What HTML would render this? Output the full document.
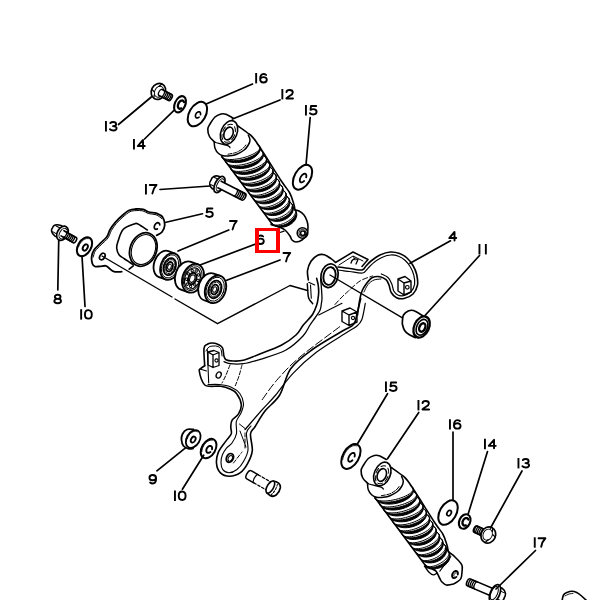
<!DOCTYPE html><html><head><meta charset="utf-8"><style>html,body{margin:0;padding:0;background:#fff;width:600px;height:600px;overflow:hidden}svg{display:block}</style></head><body>
<svg width="600" height="600" viewBox="0 0 600 600">
<defs>
<g id="shock">
<path d="M214.2,141.7 C213.4,140.8 210.6,138.6 209.5,136.5 C208.4,134.4 207.7,131.1 207.8,129.0 C207.9,126.9 208.8,126.0 210.0,124.0 C211.2,122.0 213.2,118.7 215.0,117.0 C216.8,115.3 219.2,114.5 221.0,114.0 C222.8,113.5 224.0,113.6 226.0,114.3 C228.0,115.0 231.8,117.4 233.0,118.0" stroke-width="1.6"/>
<ellipse cx="229" cy="132.5" rx="8" ry="12.3" transform="rotate(22 229 132.5)" stroke-width="1.6"/>
<ellipse cx="228.5" cy="133.5" rx="4.4" ry="6.6" transform="rotate(22 228.5 133.5)" stroke-width="1.6"/>
<ellipse cx="228.7" cy="133.2" rx="6.2" ry="9.4" transform="rotate(22 228.7 133.2)" stroke-dasharray="5 3" stroke-width="1"/>
<path d="M214.2,141.7 C214.5,141.8 214.6,142.1 215.8,142.5 C217.1,142.9 219.6,143.6 221.7,144.2 C223.8,144.8 226.9,145.2 228.3,145.8 C229.7,146.4 229.7,147.2 230.0,147.5" stroke-width="1.3"/>
<path d="M214.2,142.0 C214.3,143.1 214.3,146.4 215.0,148.3 C215.7,150.2 216.9,152.1 218.3,153.3 C219.7,154.6 221.4,155.4 223.3,155.8 C225.2,156.2 227.8,156.1 230.0,155.8 C232.2,155.5 234.3,155.2 236.7,154.2 C239.1,153.2 242.3,151.5 244.2,150.0 C246.1,148.5 247.3,146.7 248.3,145.0 C249.3,143.3 250.0,141.7 250.0,140.0 C250.0,138.3 248.6,135.8 248.3,135.0" stroke-width="1.5"/>
<path d="M228.0,154.2 C229.3,153.9 233.6,153.4 236.0,152.5 C238.4,151.6 240.8,150.1 242.5,148.8 C244.2,147.5 245.6,145.2 246.2,144.5" stroke-width="1.0" stroke-dasharray="4 1.5"/>
<path d="M221.7,156.2 L272.5,224.5" stroke-width="1.6"/>
<path d="M238.0,126.0 C239.5,127.1 244.0,129.9 247.0,132.5 C250.0,135.1 250.3,133.5 256.0,141.5 C261.7,149.5 275.4,172.0 281.0,180.5 C286.6,189.0 287.4,188.8 289.5,192.5 C291.6,196.2 292.6,200.1 293.5,203.0 C294.4,205.9 294.8,208.8 295.0,210.0" stroke-width="1.6"/>
<path d="M221.70,156.70 L222.50,158.06 L223.69,159.29 L225.26,160.36 L227.15,161.24 L229.34,161.92 L231.77,162.37 L234.40,162.60 L237.16,162.60 L240.00,162.36 L242.86,161.89 L245.67,161.21 L248.38,160.32 L250.92,159.24 L253.24,158.01 L255.29,156.64 L257.03,155.16 L258.42,153.61 L259.43,152.02 L260.04,150.43 L260.23,148.86 L260.00,147.36 L259.36,145.95 L258.31,144.66 L256.89,143.53 L257.22,144.37 L258.52,145.19 L259.44,146.15 L259.95,147.23 L260.05,148.41 L259.73,149.66 L259.01,150.95 L257.89,152.26 L256.40,153.56 L254.57,154.82 L252.45,156.02 L250.08,157.12 L247.50,158.11 L244.78,158.96 L241.97,159.66 L239.14,160.18 L236.34,160.52 L233.63,160.68 L231.08,160.64 L228.74,160.41 L226.65,159.99 L224.87,159.40 L223.44,158.64 L222.37,157.74 L221.70,156.70 Z" fill="#000" stroke-width="1.0"/>
<path d="M221.70,156.70 L222.23,157.48 L223.11,158.15 L224.33,158.69 L225.87,159.10 L227.70,159.37 L229.78,159.50 L232.07,159.47 L234.52,159.29 L237.10,158.97 L239.75,158.51 L242.41,157.92 L245.05,157.22 L247.60,156.40 L250.02,155.50 L252.26,154.52 L254.28,153.49 L256.03,152.43 L257.50,151.35 L258.64,150.29 L259.44,149.25 L259.87,148.25 L259.94,147.33 L259.64,146.49 L258.98,145.75" stroke-width="1.0"/>
<path d="M226.27,162.77 L227.09,164.12 L228.29,165.34 L229.84,166.38 L231.71,167.24 L233.85,167.89 L236.23,168.32 L238.79,168.52 L241.48,168.48 L244.23,168.22 L246.99,167.72 L249.71,167.01 L252.31,166.09 L254.75,164.99 L256.97,163.74 L258.92,162.35 L260.57,160.86 L261.87,159.30 L262.80,157.71 L263.34,156.11 L263.48,154.55 L263.21,153.05 L262.54,151.66 L261.49,150.39 L260.07,149.27 L260.42,150.11 L261.71,150.91 L262.63,151.86 L263.16,152.93 L263.29,154.10 L263.02,155.35 L262.35,156.64 L261.31,157.96 L259.90,159.28 L258.16,160.55 L256.14,161.77 L253.86,162.89 L251.39,163.90 L248.77,164.78 L246.06,165.50 L243.32,166.05 L240.61,166.43 L237.99,166.61 L235.51,166.60 L233.23,166.40 L231.19,166.00 L229.44,165.43 L228.02,164.69 L226.96,163.80 L226.27,162.77 Z" fill="#000" stroke-width="1.0"/>
<path d="M226.27,162.77 L226.81,163.54 L227.69,164.20 L228.89,164.73 L230.40,165.12 L232.18,165.37 L234.21,165.47 L236.43,165.42 L238.81,165.22 L241.31,164.87 L243.86,164.39 L246.44,163.77 L248.98,163.04 L251.43,162.20 L253.75,161.27 L255.90,160.28 L257.83,159.23 L259.51,158.15 L260.90,157.06 L261.98,155.99 L262.72,154.94 L263.12,153.95 L263.15,153.03 L262.84,152.19 L262.17,151.46" stroke-width="1.0"/>
<path d="M230.85,168.85 L231.68,170.18 L232.89,171.38 L234.43,172.40 L236.27,173.23 L238.38,173.86 L240.70,174.26 L243.19,174.43 L245.80,174.36 L248.47,174.07 L251.14,173.54 L253.75,172.80 L256.25,171.86 L258.58,170.74 L260.70,169.46 L262.55,168.06 L264.10,166.56 L265.32,164.99 L266.17,163.39 L266.65,161.79 L266.73,160.24 L266.42,158.75 L265.73,157.36 L264.66,156.11 L263.25,155.02 L263.62,155.85 L264.89,156.63 L265.82,157.56 L266.37,158.62 L266.53,159.79 L266.31,161.04 L265.71,162.34 L264.73,163.66 L263.41,164.98 L261.76,166.27 L259.83,167.51 L257.66,168.65 L255.29,169.69 L252.77,170.59 L250.16,171.34 L247.52,171.92 L244.90,172.32 L242.36,172.53 L239.95,172.55 L237.72,172.38 L235.73,172.01 L234.01,171.46 L232.60,170.74 L231.54,169.86 L230.85,168.85 Z" fill="#000" stroke-width="1.0"/>
<path d="M230.85,168.85 L231.39,169.61 L232.27,170.25 L233.45,170.77 L234.93,171.14 L236.67,171.37 L238.64,171.45 L240.80,171.37 L243.11,171.14 L245.52,170.77 L247.99,170.26 L250.47,169.61 L252.91,168.85 L255.27,167.99 L257.50,167.04 L259.55,166.03 L261.40,164.96 L262.99,163.87 L264.31,162.77 L265.32,161.68 L266.01,160.64 L266.36,159.64 L266.37,158.72 L266.03,157.90 L265.36,157.18" stroke-width="1.0"/>
<path d="M235.42,174.92 L236.28,176.24 L237.49,177.41 L239.02,178.41 L240.84,179.22 L242.91,179.82 L245.18,180.19 L247.61,180.33 L250.14,180.23 L252.72,179.91 L255.29,179.35 L257.80,178.58 L260.20,177.61 L262.43,176.47 L264.44,175.18 L266.19,173.76 L267.65,172.24 L268.78,170.67 L269.55,169.07 L269.96,167.47 L269.99,165.92 L269.64,164.44 L268.91,163.07 L267.84,161.84 L266.43,160.77 L266.81,161.59 L268.08,162.35 L269.01,163.27 L269.58,164.32 L269.78,165.48 L269.61,166.72 L269.06,168.02 L268.16,169.35 L266.92,170.69 L265.37,171.99 L263.53,173.24 L261.46,174.41 L259.19,175.46 L256.78,176.39 L254.27,177.17 L251.72,177.78 L249.19,178.21 L246.73,178.45 L244.39,178.50 L242.22,178.35 L240.27,178.01 L238.58,177.48 L237.19,176.78 L236.13,175.92 L235.42,174.92 Z" fill="#000" stroke-width="1.0"/>
<path d="M235.42,174.92 L235.97,175.67 L236.85,176.30 L238.02,176.80 L239.47,177.15 L241.16,177.36 L243.08,177.41 L245.17,177.31 L247.41,177.06 L249.74,176.66 L252.12,176.12 L254.51,175.45 L256.85,174.66 L259.12,173.78 L261.25,172.81 L263.21,171.77 L264.96,170.69 L266.48,169.58 L267.72,168.47 L268.66,167.38 L269.30,166.33 L269.60,165.33 L269.58,164.42 L269.23,163.60 L268.55,162.89" stroke-width="1.0"/>
<path d="M239.99,180.99 L240.88,182.29 L242.09,183.45 L243.62,184.42 L245.41,185.20 L247.44,185.77 L249.66,186.11 L252.03,186.22 L254.48,186.09 L256.98,185.73 L259.46,185.15 L261.87,184.35 L264.16,183.36 L266.29,182.20 L268.19,180.88 L269.84,179.45 L271.20,177.92 L272.24,176.34 L272.94,174.74 L273.27,173.15 L273.24,171.60 L272.85,170.14 L272.10,168.78 L271.01,167.57 L269.60,166.52 L270.00,167.33 L271.26,168.08 L272.19,168.98 L272.79,170.01 L273.03,171.16 L272.90,172.40 L272.42,173.71 L271.60,175.04 L270.44,176.38 L268.98,177.70 L267.24,178.97 L265.27,180.15 L263.11,181.23 L260.80,182.19 L258.39,182.99 L255.94,183.63 L253.49,184.09 L251.11,184.37 L248.83,184.44 L246.72,184.32 L244.82,184.00 L243.16,183.50 L241.78,182.82 L240.72,181.98 L239.99,180.99 Z" fill="#000" stroke-width="1.0"/>
<path d="M239.99,180.99 L240.56,181.73 L241.43,182.35 L242.58,182.83 L244.00,183.16 L245.66,183.35 L247.52,183.38 L249.56,183.25 L251.72,182.97 L253.96,182.54 L256.26,181.98 L258.55,181.28 L260.80,180.47 L262.97,179.56 L265.00,178.56 L266.87,177.51 L268.54,176.41 L269.97,175.29 L271.13,174.17 L272.01,173.07 L272.59,172.02 L272.85,171.02 L272.79,170.11 L272.42,169.30 L271.74,168.61" stroke-width="1.0"/>
<path d="M244.56,187.06 L245.47,188.35 L246.70,189.48 L248.22,190.43 L249.99,191.18 L251.99,191.72 L254.16,192.03 L256.46,192.10 L258.84,191.94 L261.25,191.55 L263.64,190.94 L265.95,190.11 L268.14,189.09 L270.15,187.91 L271.96,186.57 L273.50,185.13 L274.77,183.59 L275.71,182.01 L276.33,180.40 L276.59,178.82 L276.50,177.28 L276.06,175.83 L275.28,174.50 L274.17,173.30 L272.76,172.28 L273.19,173.08 L274.44,173.81 L275.38,174.69 L276.00,175.71 L276.27,176.85 L276.20,178.08 L275.79,179.38 L275.04,180.72 L273.97,182.07 L272.60,183.40 L270.96,184.68 L269.09,185.89 L267.03,186.99 L264.82,187.97 L262.52,188.81 L260.16,189.48 L257.80,189.97 L255.49,190.27 L253.29,190.37 L251.23,190.28 L249.37,189.99 L247.74,189.51 L246.37,188.86 L245.31,188.03 L244.56,187.06 Z" fill="#000" stroke-width="1.0"/>
<path d="M244.56,187.06 L245.14,187.79 L246.01,188.39 L247.15,188.86 L248.55,189.17 L250.16,189.33 L251.97,189.34 L253.94,189.18 L256.03,188.87 L258.20,188.42 L260.40,187.82 L262.61,187.10 L264.76,186.26 L266.83,185.33 L268.77,184.31 L270.54,183.24 L272.12,182.12 L273.46,180.99 L274.55,179.86 L275.36,178.76 L275.88,177.70 L276.10,176.71 L276.01,175.81 L275.61,175.01 L274.92,174.33" stroke-width="1.0"/>
<path d="M249.14,193.14 L250.07,194.40 L251.31,195.50 L252.83,196.43 L254.58,197.15 L256.54,197.65 L258.66,197.93 L260.90,197.97 L263.21,197.78 L265.53,197.35 L267.83,196.71 L270.04,195.86 L272.12,194.81 L274.04,193.61 L275.73,192.26 L277.18,190.79 L278.34,189.25 L279.19,187.66 L279.72,186.06 L279.91,184.48 L279.76,182.96 L279.28,181.52 L278.46,180.21 L277.34,179.04 L275.93,178.04 L276.37,178.83 L277.61,179.54 L278.57,180.40 L279.21,181.40 L279.53,182.53 L279.51,183.76 L279.16,185.06 L278.48,186.40 L277.50,187.75 L276.22,189.09 L274.69,190.39 L272.92,191.61 L270.97,192.74 L268.86,193.75 L266.65,194.61 L264.39,195.31 L262.12,195.83 L259.89,196.16 L257.75,196.30 L255.75,196.24 L253.93,195.98 L252.32,195.53 L250.97,194.89 L249.90,194.09 L249.14,193.14 Z" fill="#000" stroke-width="1.0"/>
<path d="M249.14,193.14 L249.73,193.85 L250.60,194.44 L251.73,194.88 L253.09,195.17 L254.67,195.31 L256.43,195.29 L258.34,195.11 L260.35,194.77 L262.44,194.29 L264.56,193.66 L266.67,192.91 L268.73,192.05 L270.70,191.09 L272.54,190.06 L274.22,188.96 L275.70,187.83 L276.96,186.69 L277.97,185.55 L278.72,184.44 L279.18,183.38 L279.35,182.40 L279.22,181.50 L278.81,180.71 L278.11,180.04" stroke-width="1.0"/>
<path d="M253.71,199.21 L254.68,200.45 L255.93,201.52 L257.44,202.42 L259.18,203.10 L261.10,203.57 L263.18,203.82 L265.36,203.82 L267.59,203.60 L269.83,203.14 L272.03,202.46 L274.15,201.58 L276.13,200.52 L277.93,199.29 L279.52,197.92 L280.86,196.45 L281.92,194.90 L282.68,193.31 L283.12,191.71 L283.24,190.14 L283.03,188.63 L282.49,187.22 L281.64,185.92 L280.50,184.78 L279.08,183.81 L279.55,184.59 L280.79,185.27 L281.75,186.11 L282.42,187.10 L282.78,188.21 L282.82,189.43 L282.53,190.72 L281.94,192.06 L281.04,193.42 L279.86,194.77 L278.42,196.09 L276.76,197.33 L274.91,198.48 L272.91,199.51 L270.80,200.40 L268.63,201.13 L266.45,201.68 L264.30,202.04 L262.22,202.21 L260.27,202.18 L258.49,201.95 L256.91,201.53 L255.57,200.92 L254.49,200.14 L253.71,199.21 Z" fill="#000" stroke-width="1.0"/>
<path d="M253.71,199.21 L254.32,199.91 L255.19,200.48 L256.30,200.90 L257.64,201.17 L259.18,201.28 L260.89,201.23 L262.74,201.02 L264.68,200.66 L266.69,200.14 L268.72,199.49 L270.74,198.72 L272.70,197.83 L274.57,196.85 L276.32,195.79 L277.90,194.68 L279.29,193.53 L280.47,192.38 L281.40,191.23 L282.07,190.12 L282.48,189.06 L282.60,188.08 L282.44,187.19 L282.00,186.42 L281.29,185.77" stroke-width="1.0"/>
<path d="M258.28,205.28 L259.28,206.49 L260.55,207.54 L262.06,208.40 L263.78,209.05 L265.68,209.49 L267.71,209.69 L269.82,209.66 L271.98,209.40 L274.14,208.91 L276.25,208.20 L278.26,207.29 L280.14,206.20 L281.83,204.95 L283.32,203.57 L284.55,202.09 L285.51,200.54 L286.18,198.95 L286.53,197.36 L286.57,195.80 L286.30,194.30 L285.71,192.91 L284.82,191.64 L283.65,190.53 L282.23,189.59 L282.72,190.35 L283.96,191.00 L284.94,191.82 L285.63,192.79 L286.03,193.89 L286.13,195.10 L285.91,196.38 L285.39,197.72 L284.58,199.09 L283.50,200.44 L282.17,201.77 L280.61,203.03 L278.86,204.20 L276.96,205.26 L274.96,206.17 L272.88,206.93 L270.78,207.52 L268.71,207.91 L266.70,208.12 L264.80,208.12 L263.06,207.92 L261.50,207.53 L260.17,206.95 L259.09,206.19 L258.28,205.28 Z" fill="#000" stroke-width="1.0"/>
<path d="M258.28,205.28 L258.91,205.97 L259.78,206.51 L260.88,206.91 L262.20,207.16 L263.70,207.24 L265.36,207.16 L267.14,206.93 L269.02,206.53 L270.94,205.99 L272.89,205.31 L274.82,204.51 L276.68,203.59 L278.46,202.59 L280.11,201.51 L281.59,200.38 L282.89,199.22 L283.98,198.06 L284.83,196.91 L285.44,195.79 L285.78,194.74 L285.85,193.76 L285.66,192.89 L285.19,192.12 L284.47,191.49" stroke-width="1.0"/>
<path d="M262.85,211.35 L263.89,212.54 L265.17,213.55 L266.68,214.37 L268.39,214.99 L270.26,215.38 L272.24,215.55 L274.30,215.48 L276.39,215.18 L278.47,214.66 L280.48,213.92 L282.40,212.98 L284.17,211.87 L285.75,210.60 L287.13,209.20 L288.25,207.71 L289.11,206.16 L289.68,204.57 L289.95,202.99 L289.91,201.44 L289.57,199.97 L288.92,198.60 L288.00,197.36 L286.81,196.27 L285.38,195.38 L285.89,196.12 L287.13,196.74 L288.12,197.54 L288.85,198.48 L289.29,199.56 L289.44,200.76 L289.30,202.03 L288.86,203.37 L288.14,204.74 L287.15,206.10 L285.92,207.44 L284.47,208.71 L282.83,209.91 L281.03,210.99 L279.12,211.93 L277.14,212.72 L275.13,213.34 L273.13,213.77 L271.19,214.01 L269.34,214.04 L267.64,213.88 L266.10,213.52 L264.78,212.97 L263.69,212.24 L262.85,211.35 Z" fill="#000" stroke-width="1.0"/>
<path d="M262.85,211.35 L263.49,212.02 L264.37,212.55 L265.47,212.92 L266.76,213.14 L268.22,213.20 L269.83,213.09 L271.56,212.82 L273.36,212.40 L275.21,211.83 L277.07,211.12 L278.90,210.28 L280.67,209.35 L282.35,208.32 L283.90,207.22 L285.29,206.08 L286.50,204.90 L287.50,203.73 L288.27,202.58 L288.80,201.46 L289.08,200.41 L289.11,199.44 L288.87,198.58 L288.38,197.83 L287.65,197.21" stroke-width="1.0"/>
<path d="M267.43,217.43 L268.49,218.58 L269.80,219.55 L271.32,220.34 L273.01,220.91 L274.85,221.26 L276.79,221.39 L278.79,221.28 L280.81,220.94 L282.80,220.38 L284.73,219.61 L286.54,218.64 L288.21,217.51 L289.69,216.22 L290.95,214.81 L291.97,213.31 L292.72,211.76 L293.19,210.18 L293.37,208.61 L293.25,207.08 L292.84,205.63 L292.14,204.28 L291.18,203.08 L289.96,202.03 L288.52,201.17 L289.06,201.90 L290.30,202.49 L291.30,203.25 L292.06,204.17 L292.55,205.23 L292.76,206.41 L292.69,207.68 L292.33,209.01 L291.70,210.37 L290.81,211.74 L289.68,213.09 L288.33,214.38 L286.80,215.59 L285.11,216.70 L283.30,217.67 L281.41,218.49 L279.49,219.14 L277.56,219.61 L275.68,219.88 L273.89,219.96 L272.22,219.83 L270.70,219.51 L269.38,218.99 L268.28,218.29 L267.43,217.43 Z" fill="#000" stroke-width="1.0"/>
<path d="M267.43,217.43 L268.09,218.07 L268.97,218.58 L270.05,218.93 L271.32,219.12 L272.75,219.14 L274.31,219.00 L275.98,218.70 L277.71,218.25 L279.48,217.65 L281.25,216.91 L283.00,216.05 L284.67,215.08 L286.25,214.03 L287.70,212.92 L289.00,211.76 L290.11,210.57 L291.02,209.39 L291.72,208.23 L292.18,207.12 L292.39,206.08 L292.36,205.12 L292.09,204.27 L291.58,203.54 L290.83,202.94" stroke-width="1.0"/>
<path d="M272.00,223.50 L273.10,224.61 L274.43,225.55 L275.95,226.29 L277.64,226.82 L279.45,227.13 L281.35,227.21 L283.29,227.05 L285.24,226.68 L287.15,226.08 L288.99,225.27 L290.70,224.28 L292.26,223.12 L293.63,221.82 L294.78,220.40 L295.69,218.90 L296.34,217.34 L296.71,215.77 L296.80,214.22 L296.60,212.71 L296.11,211.28 L295.36,209.97 L294.35,208.80 L293.11,207.79 L291.66,206.97 L292.22,207.68 L293.46,208.24 L294.49,208.97 L295.28,209.86 L295.81,210.90 L296.08,212.06 L296.08,213.31 L295.81,214.63 L295.27,216.00 L294.48,217.37 L293.45,218.72 L292.21,220.03 L290.78,221.26 L289.20,222.39 L287.49,223.39 L285.69,224.24 L283.85,224.93 L282.00,225.43 L280.19,225.74 L278.44,225.86 L276.80,225.77 L275.31,225.48 L273.99,225.00 L272.88,224.33 L272.00,223.50 Z" fill="#000" stroke-width="1.0"/>
<path d="M272.00,223.50 L272.68,224.12 L273.56,224.60 L274.64,224.92 L275.89,225.08 L277.29,225.08 L278.80,224.91 L280.41,224.57 L282.07,224.09 L283.76,223.45 L285.45,222.68 L287.10,221.79 L288.68,220.80 L290.16,219.73 L291.51,218.60 L292.71,217.42 L293.73,216.23 L294.55,215.04 L295.17,213.88 L295.55,212.77 L295.71,211.74 L295.62,210.79 L295.31,209.95 L294.77,209.24 L294.01,208.67" stroke-width="1.0"/>
</g>
</defs>
<g fill="none" stroke="#000" stroke-width="1.4" stroke-linecap="round" stroke-linejoin="round">
<use href="#shock"/>
<use href="#shock" transform="translate(153.3,341.5)"/>
<path d="M271.0,224.0 C271.2,224.2 270.7,224.5 272.0,225.0 C273.3,225.5 276.8,226.2 279.0,227.0 C281.2,227.8 283.2,228.5 285.0,230.0 C286.8,231.5 288.8,234.3 290.0,236.0 C291.2,237.7 291.0,239.0 292.0,240.0 C293.0,241.0 294.3,242.0 296.0,242.0 C297.7,242.0 300.2,241.3 302.0,240.0 C303.8,238.7 306.0,236.2 307.0,234.0 C308.0,231.8 308.0,229.2 308.0,227.0 C308.0,224.8 307.7,223.0 307.0,221.0 C306.3,219.0 305.3,216.7 304.0,215.0 C302.7,213.3 300.5,211.8 299.0,211.0 C297.5,210.2 295.7,210.2 295.0,210.0" stroke-width="1.6"/>
<path d="M286,226 L296,216" stroke-width="1.2"/>
<path d="M280,232.5 L284,231.2" stroke-width="1.3"/>
<circle cx="302.5" cy="233" r="5.3" stroke-width="1.6"/>
<circle cx="302.5" cy="233" r="3.6" stroke-width="0.9"/>
<circle cx="302.8" cy="233.3" r="2.2" stroke-width="1.5"/>
<path d="M425.8,566.0 C426.0,566.2 426.0,567.0 427.0,567.5 C428.0,568.0 430.5,568.4 432.0,569.0 C433.5,569.6 434.8,569.6 436.1,571.2 C437.4,572.8 438.8,576.7 439.8,578.5 C440.8,580.3 440.9,580.9 442.0,582.0 C443.1,583.1 444.3,584.7 446.2,585.0 C448.1,585.3 451.7,584.5 453.5,584.0 C455.3,583.5 455.8,582.9 457.0,582.0 C458.2,581.1 460.1,580.2 460.9,578.5 C461.7,576.8 461.9,574.3 462.0,572.0 C462.1,569.7 463.0,567.3 461.8,564.8 C460.6,562.3 457.0,559.0 455.0,557.0 C453.0,555.0 451.0,553.7 449.9,552.8 C448.8,551.9 448.6,551.7 448.3,551.5" stroke-width="1.6"/>
<path d="M424.5,566.0 C425.2,567.0 427.3,570.6 428.8,572.1 C430.3,573.6 431.9,574.8 433.3,574.9 C434.7,575.0 436.4,573.3 437.0,573.0" stroke-width="1.4"/>
<path d="M450.8,556.5 L439.8,571.2 M447.1,549.5 L440,560" stroke-width="1.1"/>
<path d="M457.78,574.57 L457.96,572.94 L457.51,571.64 L456.53,570.95 L455.22,571.01 L453.86,571.82 L452.75,573.20 L452.11,574.85 L452.09,576.43 L452.69,577.60 L453.78,578.11 L455.13,577.85 L456.45,576.88" stroke-width="1.8"/>
<path d="M456.40,572.89 L456.09,572.80 L455.73,572.85 L455.34,573.03 L454.95,573.33 L454.58,573.73 L454.26,574.20 L454.01,574.71 L453.85,575.23 L453.79,575.72 L453.83,576.15 L453.97,576.49 L454.20,576.71" stroke-width="1.0"/>
<g transform="translate(158.4,91.4) rotate(27)">
<ellipse cx="0" cy="0" rx="7.0" ry="8.3" fill="#fff" stroke-width="1.7"/>
<path d="M-0.4,-8.1 L-1.8,-4.6 M-6.8,1.2 L-3.9,2.1 M-1.1,8.1 L-2.1,5.0" stroke-width="1.2"/>
<ellipse cx="0.7" cy="0" rx="4.3" ry="5.8" stroke-width="0.9"/>
<path d="M2.4,-3.4 L13.2,-3.4 A1.70,3.4 0 0 1 13.2,3.4 L2.4,3.4" fill="#fff" stroke-width="1.6"/>
<path d="M2.4,-3.4 A1.70,3.4 0 0 0 2.4,3.4" stroke-width="1.2"/>
<path d="M4.5,-3.4 A1.70,3.4 0 0 1 4.5,3.4" stroke-width="1.3"/>
<path d="M6.3,-3.4 A1.70,3.4 0 0 1 6.3,3.4" stroke-width="1.3"/>
<path d="M8.1,-3.4 A1.70,3.4 0 0 1 8.1,3.4" stroke-width="1.3"/>
<path d="M9.9,-3.4 A1.70,3.4 0 0 1 9.9,3.4" stroke-width="1.3"/>
<path d="M11.7,-3.4 A1.70,3.4 0 0 1 11.7,3.4" stroke-width="1.3"/>
</g>
<ellipse cx="180" cy="104.3" rx="5.2" ry="8.6" transform="rotate(25 180 104.3)" stroke-width="2.1"/>
<path d="M183.98,102.01 L183.41,101.01 L182.51,100.49 L181.41,100.53 L180.25,101.13 L179.19,102.20 L178.38,103.59 L177.93,105.12 L177.89,106.58 L178.28,107.77 L179.03,108.53 L180.05,108.76 L181.21,108.42" stroke-width="2.3"/>
<ellipse cx="197.4" cy="114.1" rx="8.2" ry="13.3" transform="rotate(30 197.4 114.1)" stroke-width="2.0"/>
<path d="M200.52,114.70 L200.58,113.34 L200.11,112.30 L199.23,111.78 L198.10,111.88 L196.95,112.58 L196.01,113.75 L195.47,115.15 L195.43,116.50 L195.91,117.53 L196.81,118.03 L197.94,117.91 L199.09,117.19" stroke-width="1.6"/>
<ellipse cx="302.5" cy="177.25" rx="8" ry="13.5" transform="rotate(30 302.5 177.25)" stroke-width="2.0"/>
<path d="M306.18,177.43 L306.42,175.58 L306.00,174.22 L305.00,173.63 L303.63,173.92 L302.14,175.03 L300.85,176.75 L300.01,178.73 L299.78,180.57 L300.22,181.91 L301.24,182.48 L302.62,182.16 L304.11,181.02" stroke-width="1.8"/>
<g transform="translate(219.5,184.5) rotate(27)">
<path d="M-1,-6.9 L-4.4,-7.0 C-8.8,-6.2 -10.0,-2.6 -9.6,0 C-10.0,2.6 -8.8,6.2 -4.4,7.0 L-1,6.9" fill="#fff" stroke-width="1.6"/>
<path d="M-8.0,-4.0 L-3.2,-4.0 M-8.0,4.0 L-3.2,4.0" stroke-width="1.0"/>
<ellipse cx="0" cy="0" rx="4.4" ry="8.8" fill="#fff" stroke-width="1.7"/>
<ellipse cx="0.8" cy="0" rx="3.0" ry="6.6" stroke-width="1.0"/>
<path d="M0.0,-3.7 L27,-3.7 A1.85,3.7 0 0 1 27,3.7 L0.0,3.7" fill="#fff" stroke-width="1.6"/>
<path d="M17.5,-3.7 A1.85,3.7 0 0 1 17.5,3.7" stroke-width="1.3"/>
<path d="M19.4,-3.7 A1.85,3.7 0 0 1 19.4,3.7" stroke-width="1.3"/>
<path d="M21.3,-3.7 A1.85,3.7 0 0 1 21.3,3.7" stroke-width="1.3"/>
<path d="M23.2,-3.7 A1.85,3.7 0 0 1 23.2,3.7" stroke-width="1.3"/>
<path d="M25.1,-3.7 A1.85,3.7 0 0 1 25.1,3.7" stroke-width="1.3"/>
</g>
<g transform="translate(62.5,233.3) rotate(29)">
<path d="M-1,-5.9 L-5.2,-6.1 C-10.5,-5.3 -11.9,-2.3 -11.4,0 C-11.9,2.3 -10.5,5.3 -5.2,6.1 L-1,5.9" fill="#fff" stroke-width="1.6"/>
<path d="M-9.5,-3.4 L-3.8,-3.4 M-9.5,3.4 L-3.8,3.4" stroke-width="1.0"/>
<ellipse cx="0" cy="0" rx="5.2" ry="7.6" fill="#fff" stroke-width="1.7"/>
<ellipse cx="0.8" cy="0" rx="3.6" ry="5.7" stroke-width="1.0"/>
<path d="M0.0,-3.0 L14,-3.0 A1.50,3.0 0 0 1 14,3.0 L0.0,3.0" fill="#fff" stroke-width="1.6"/>
<path d="M2.5,-3.0 A1.50,3.0 0 0 1 2.5,3.0" stroke-width="1.3"/>
<path d="M4.3,-3.0 A1.50,3.0 0 0 1 4.3,3.0" stroke-width="1.3"/>
<path d="M6.1,-3.0 A1.50,3.0 0 0 1 6.1,3.0" stroke-width="1.3"/>
<path d="M7.9,-3.0 A1.50,3.0 0 0 1 7.9,3.0" stroke-width="1.3"/>
<path d="M9.7,-3.0 A1.50,3.0 0 0 1 9.7,3.0" stroke-width="1.3"/>
<path d="M11.5,-3.0 A1.50,3.0 0 0 1 11.5,3.0" stroke-width="1.3"/>
</g>
<ellipse cx="84.5" cy="246.8" rx="6.5" ry="10.3" transform="rotate(30 84.5 246.8)" stroke-width="2.0"/>
<ellipse cx="85.3" cy="247.4" rx="2.2" ry="3.4" transform="rotate(30 85.3 247.4)" stroke-width="1.9"/>
<path d="M88.12,238.66 L87.30,238.55 L86.42,238.62 L85.50,238.87 L84.56,239.28 L83.62,239.85 L82.70,240.56 L81.82,241.41 L80.99,242.38 L80.23,243.43 L79.57,244.56 L79.01,245.73 L78.57,246.93" stroke-width="0.9"/>
<path d="M121.7,271.7 C120.5,271.7 116.3,272.3 114.2,271.7 C112.1,271.1 110.6,269.3 109.2,268.3 C107.8,267.3 107.3,266.1 105.8,265.8 C104.3,265.5 101.8,266.2 100.0,266.3 C98.2,266.4 96.3,267.0 95.0,266.5 C93.7,266.0 92.8,265.1 92.3,263.5 C91.8,261.9 91.4,258.9 91.7,256.7 C92.0,254.4 92.6,252.2 94.0,250.0 C95.4,247.8 97.9,245.9 100.0,243.7 C102.1,241.5 105.0,239.3 106.7,237.0 C108.4,234.7 108.6,232.1 110.0,229.7 C111.4,227.2 113.3,224.6 115.3,222.3 C117.3,220.0 119.7,217.7 122.0,215.7 C124.3,213.7 127.0,211.4 129.3,210.3 C131.6,209.2 133.7,209.2 136.0,209.0 C138.3,208.8 141.2,208.8 143.3,209.3 C145.4,209.8 146.5,211.3 148.7,212.0 C150.9,212.7 154.4,212.4 156.7,213.3 C159.0,214.2 161.4,215.3 162.7,217.3 C164.0,219.3 164.8,222.9 164.7,225.3 C164.6,227.8 163.3,230.3 162.0,232.0 C160.7,233.7 157.6,234.8 156.7,235.3" stroke-width="1.8"/>
<path d="M93.2,257.2 C93.6,256.2 94.0,252.9 95.3,250.9 C96.7,248.8 99.0,247.0 101.1,244.8 C103.3,242.7 106.3,240.3 108.0,237.9 C109.7,235.5 110.0,232.9 111.4,230.5 C112.8,228.1 114.6,225.6 116.5,223.3 C118.5,221.1 120.8,218.8 123.0,216.9 C125.3,215.0 127.8,212.8 130.0,211.7 C132.2,210.7 134.0,210.7 136.1,210.6 C138.3,210.4 140.9,210.4 142.9,210.9 C145.0,211.3 146.0,212.9 148.2,213.5 C150.4,214.2 153.9,213.9 156.1,214.8 C158.4,215.6 160.9,218.0 161.8,218.6" stroke-width="1.0"/>
<ellipse cx="102.3" cy="256.5" rx="2.4" ry="3.6" transform="rotate(30 102.3 256.5)" stroke-width="1.7"/>
<path d="M159.75,224.92 L159.54,223.75 L158.92,222.96 L157.98,222.66 L156.88,222.91 L155.80,223.66 L154.92,224.80 L154.38,226.13 L154.26,227.44 L154.60,228.52 L155.32,229.18 L156.32,229.32 L157.44,228.92" stroke-width="1.7"/>
<path d="M147.3,230.0 C145.8,229.0 140.2,225.0 138.0,224.0 C135.8,223.0 136.4,223.1 134.0,224.0 C131.6,224.9 126.0,226.4 123.3,229.3 C120.6,232.2 119.1,238.1 118.0,241.3 C116.9,244.5 116.5,246.0 116.7,248.3 C116.9,250.6 118.0,253.3 119.2,255.0 C120.4,256.7 122.2,257.2 124.0,258.5 C125.8,259.8 128.5,261.5 130.0,262.5 C131.5,263.5 132.5,264.2 133.0,264.5" stroke-width="1.6"/>
<path d="M129.2,269.2 L133.3,265.8" stroke-width="1.6"/>
<ellipse cx="143.3" cy="249.5" rx="13.2" ry="17.3" transform="rotate(22 143.3 249.5)" stroke-width="1.8"/>
<ellipse cx="143.5" cy="249.5" rx="11.6" ry="15.5" transform="rotate(22 143.5 249.5)" stroke-width="1.1"/>
<g transform="translate(170.3,266.5) rotate(20)">
<path d="M0,-13.8 L-7,-13.8 A9.6,13.8 0 0 0 -7,13.8 L0,13.8 Z" fill="#fff" stroke-width="1.8"/>
<ellipse cx="0" cy="0" rx="9.6" ry="13.8" fill="#fff" stroke-width="1.8"/>
<ellipse cx="-0.3" cy="0" rx="8.16" ry="12.01" stroke-width="0.9"/>
<ellipse cx="-0.5" cy="0.3" rx="5.95" ry="8.83" stroke-width="1.8"/>
<ellipse cx="-0.5" cy="0.3" rx="4.80" ry="7.18" stroke-width="0.9" stroke-dasharray="2 1.2"/>
<ellipse cx="-0.7" cy="0.5" rx="3.17" ry="4.83" stroke-width="1.9"/>
<ellipse cx="-0.7" cy="0.5" rx="1.73" ry="2.76" stroke-width="1.0"/>
</g>
<g transform="translate(193,278.3) rotate(20)">
<path d="M0,-14.8 L-7.5,-14.8 A10.5,14.8 0 0 0 -7.5,14.8 L0,14.8 Z" fill="#fff" stroke-width="1.8"/>
<ellipse cx="0" cy="0" rx="10.5" ry="14.8" fill="#fff" stroke-width="1.8"/>
<ellipse cx="-0.3" cy="0" rx="8.92" ry="12.88" stroke-width="0.9"/>
<ellipse cx="-0.5" cy="0.3" rx="7.56" ry="10.95" stroke-width="1.2"/>
<circle cx="5.28" cy="0.30" r="1.2" stroke-width="1.0"/>
<circle cx="3.92" cy="5.63" r="1.2" stroke-width="1.0"/>
<circle cx="0.50" cy="8.46" r="1.2" stroke-width="1.0"/>
<circle cx="-3.39" cy="7.48" r="1.2" stroke-width="1.0"/>
<circle cx="-5.93" cy="3.13" r="1.2" stroke-width="1.0"/>
<circle cx="-5.93" cy="-2.53" r="1.2" stroke-width="1.0"/>
<circle cx="-3.39" cy="-6.88" r="1.2" stroke-width="1.0"/>
<circle cx="0.50" cy="-7.86" r="1.2" stroke-width="1.0"/>
<circle cx="3.92" cy="-5.03" r="1.2" stroke-width="1.0"/>
<ellipse cx="-0.6" cy="0.5" rx="3.99" ry="5.92" stroke-width="1.9"/>
<ellipse cx="-0.6" cy="0.5" rx="2.52" ry="3.85" stroke-width="1.1"/>
</g>
<g transform="translate(215.5,289.3) rotate(20)">
<path d="M0,-14.2 L-7,-14.2 A10.2,14.2 0 0 0 -7,14.2 L0,14.2 Z" fill="#fff" stroke-width="1.8"/>
<ellipse cx="0" cy="0" rx="10.2" ry="14.2" fill="#fff" stroke-width="1.8"/>
<ellipse cx="-0.3" cy="0" rx="8.67" ry="12.35" stroke-width="0.9"/>
<ellipse cx="-0.5" cy="0.3" rx="6.32" ry="9.09" stroke-width="1.8"/>
<ellipse cx="-0.5" cy="0.3" rx="5.10" ry="7.38" stroke-width="0.9" stroke-dasharray="2 1.2"/>
<ellipse cx="-0.7" cy="0.5" rx="3.37" ry="4.97" stroke-width="1.9"/>
<ellipse cx="-0.7" cy="0.5" rx="1.84" ry="2.84" stroke-width="1.0"/>
</g>
<path d="M102,256 L172,297"/>
<path d="M175,299 L217.5,323.7 L290,285.5 L307.5,290.5"/>
<path d="M308.3,280.0 C308.2,278.4 307.1,273.8 307.5,270.7 C307.9,267.6 309.3,263.9 311.0,261.3 C312.7,258.7 315.5,256.4 317.7,255.3 C319.9,254.2 322.1,254.1 324.3,254.7 C326.5,255.3 329.2,257.5 331.0,258.7 C332.8,259.9 334.3,261.4 335.0,262.0" stroke-width="1.6"/>
<ellipse cx="329.5" cy="275.7" rx="8.5" ry="12" transform="rotate(12 329.5 275.7)" stroke-width="1.7"/>
<ellipse cx="329.5" cy="276" rx="6.0" ry="9.0" transform="rotate(12 329.5 276)" stroke-width="1.9"/>
<path d="M335.5,262.5 L353,252 L368,259.5 L362,266.5" stroke-width="1.5"/>
<path d="M339,265 L353,256 L363,261" stroke-width="1.0"/>
<path d="M351,263 C352,259 355,258 358,259.5 L356,264" stroke-width="1.3"/>
<path d="M353.5,256.5 L355,260" stroke-width="1.0"/>
<path d="M338.0,267.0 C340.0,267.2 346.0,268.0 350.0,268.5 C354.0,269.0 359.3,270.4 362.0,270.0 C364.7,269.6 364.5,267.5 366.0,266.0 C367.5,264.5 368.7,262.8 371.0,261.0 C373.3,259.2 376.8,256.5 380.0,255.0 C383.2,253.5 387.2,252.2 390.5,252.0 C393.8,251.8 396.8,252.5 399.5,253.5 C402.2,254.5 404.8,256.0 407.0,258.0 C409.2,260.0 411.4,262.8 413.0,265.5 C414.6,268.2 415.9,271.2 416.7,274.5 C417.4,277.8 418.1,281.8 417.5,285.0 C416.9,288.2 415.2,291.8 413.0,294.0 C410.8,296.2 406.8,297.9 404.0,298.5 C401.2,299.1 398.6,298.7 396.5,297.7 C394.4,296.7 392.4,294.6 391.2,292.5 C389.9,290.4 389.9,287.1 389.0,285.0 C388.1,282.9 387.5,281.1 386.0,279.7 C384.5,278.3 382.2,277.1 380.0,276.7 C377.8,276.3 374.8,276.4 372.5,277.5 C370.2,278.6 368.2,281.2 366.5,283.5 C364.8,285.8 363.1,288.2 362.0,291.0 C360.9,293.8 360.4,296.0 359.7,300.0 C358.9,304.0 357.9,312.5 357.5,315.0" stroke-width="1.6"/>
<path d="M337.6,270.0 C339.6,270.2 345.5,271.0 349.6,271.5 C353.8,272.0 359.4,273.5 362.5,273.0 C365.5,272.4 366.4,269.7 368.1,268.1 C369.9,266.5 370.7,265.1 372.9,263.4 C375.0,261.6 378.3,259.1 381.3,257.7 C384.2,256.3 387.9,255.2 390.7,255.0 C393.6,254.8 396.1,255.4 398.5,256.3 C400.9,257.2 403.0,258.5 405.0,260.2 C407.0,262.0 409.0,264.5 410.4,267.0 C411.9,269.5 413.1,272.3 413.8,275.2 C414.5,278.1 415.0,281.7 414.6,284.4 C414.1,287.2 412.7,290.0 410.9,291.9 C409.0,293.7 405.5,295.1 403.3,295.6 C401.2,296.1 399.4,295.7 397.8,295.0 C396.2,294.2 394.8,292.8 393.8,291.0 C392.8,289.1 392.7,286.1 391.8,283.9 C390.8,281.6 389.8,279.1 388.0,277.5 C386.3,275.9 382.5,274.6 381.3,274.0" stroke-width="1.2"/>
<path d="M335.0,304.5 C336.2,303.2 339.8,299.2 342.0,297.0 C344.2,294.8 345.5,293.7 348.5,291.0 C351.5,288.3 356.0,283.5 360.0,281.0 C364.0,278.5 370.4,276.8 372.5,276.0" stroke-width="1.0" stroke-dasharray="5 2.5"/>
<path d="M364.0,292.0 C364.7,290.8 366.3,286.5 368.0,284.5 C369.7,282.5 371.8,280.9 374.0,280.0 C376.2,279.1 379.8,279.2 381.0,279.0" stroke-width="1.0"/>
<path d="M398,279 L405,276.5 L411,281 L411,292 L404,295 L398,291 Z M398,279 L404,283 L411,281 M404,283 L404,295" stroke-width="1.4"/>
<circle cx="407.3" cy="287.3" r="1.8" stroke-width="1.2"/>
<path d="M316.7,278.3 C316.9,279.4 317.9,282.8 318.2,285.0 C318.5,287.2 318.7,289.4 318.7,291.7 C318.7,294.0 318.3,296.8 318.0,299.0 C317.7,301.2 317.6,302.4 316.7,305.0 C315.8,307.6 314.9,311.0 312.7,314.3 C310.5,317.6 306.1,321.6 303.3,325.0 C300.5,328.4 299.7,331.6 296.0,335.0 C292.3,338.4 287.6,342.0 281.3,345.3 C275.0,348.6 264.3,352.2 258.0,354.7 C251.7,357.2 247.5,359.2 243.3,360.3 C239.1,361.4 235.6,361.1 232.7,361.0 C229.8,360.9 227.4,360.5 226.0,359.7 C224.6,358.9 224.6,358.2 224.0,356.3 C223.4,354.4 223.5,350.2 222.7,348.3 C221.9,346.4 221.0,345.9 219.3,345.0 C217.6,344.1 214.7,343.1 212.7,343.0 C210.7,342.9 208.8,343.4 207.3,344.3 C205.9,345.2 204.4,344.7 204.0,348.3 C203.6,351.9 204.6,362.8 204.7,365.7" stroke-width="1.6"/>
<path d="M320.7,279.7 C320.8,281.2 321.3,285.9 321.5,289.0 C321.7,292.1 322.0,295.8 322.0,298.3 C322.0,300.8 321.6,302.0 321.3,304.0 C321.0,306.0 321.1,308.0 320.0,310.3 C318.9,312.6 316.7,315.6 315.0,318.0 C313.3,320.4 312.0,322.0 310.0,325.0 C308.0,328.0 307.0,331.8 303.0,336.0 C299.0,340.2 293.1,346.1 286.0,350.0 C278.9,353.9 267.4,357.0 260.3,359.3 C253.2,361.6 248.4,363.0 243.3,363.7 C238.2,364.4 233.2,364.0 230.0,363.7 C226.8,363.4 225.0,362.0 224.0,361.7" stroke-width="1.3"/>
<path d="M307.3,283.7 C307.4,284.9 307.6,288.6 307.8,291.0 C308.0,293.4 307.9,296.2 308.7,298.3 C309.5,300.4 312.0,302.8 312.7,303.7" stroke-width="1.5"/>
<path d="M308.7,282.3 L314.7,285 M310.5,285 L311.3,298.3" stroke-width="1.1"/>
<path d="M204.7,365.7 C203.9,366.2 200.9,368.1 200.0,369.0 C199.1,369.9 199.1,369.3 199.3,371.0 C199.5,372.7 200.4,376.7 201.3,379.0 C202.2,381.3 203.2,383.8 204.7,385.0 C206.1,386.2 207.3,386.1 210.0,386.3 C212.7,386.5 217.4,385.9 220.7,386.3 C224.0,386.8 227.3,387.8 230.0,389.0 C232.7,390.2 234.8,391.1 236.7,393.7 C238.6,396.3 241.0,401.3 241.3,404.7 C241.6,408.1 240.1,411.3 238.5,413.9 C236.9,416.5 233.3,418.1 232.0,420.3 C230.7,422.5 230.9,424.7 230.8,427.0 C230.7,429.3 232.0,431.6 231.2,434.0 C230.3,436.4 227.8,438.3 225.7,441.4 C223.5,444.5 219.8,448.7 218.3,452.4 C216.8,456.1 216.2,460.0 216.5,463.4 C216.8,466.8 218.0,470.5 220.2,472.6 C222.3,474.7 226.0,476.2 229.4,476.2 C232.8,476.2 237.4,474.7 240.4,472.6 C243.4,470.5 245.7,467.1 247.7,463.4 C249.7,459.7 251.8,455.5 252.3,450.6 C252.8,445.7 250.1,438.0 250.5,434.0 C250.9,430.0 252.6,430.5 255.0,426.7 C257.4,422.9 260.9,416.3 265.0,411.0 C269.1,405.7 275.4,402.1 279.7,395.0 C284.0,387.9 285.4,376.2 290.7,368.7 C296.0,361.2 303.1,356.2 311.7,350.0 C320.2,343.8 335.0,335.6 342.0,331.3 C349.0,327.0 351.2,327.4 353.7,324.3 C356.2,321.2 356.0,317.0 357.2,312.7 C358.4,308.4 360.1,301.0 360.7,298.7" stroke-width="1.6"/>
<path d="M208.0,384.5 C209.9,384.5 215.4,384.1 219.3,384.5 C223.2,384.9 227.9,385.7 231.3,387.2 C234.7,388.7 237.8,390.8 239.8,393.5 C241.8,396.2 243.3,400.2 243.5,403.5 C243.7,406.8 242.2,410.0 241.0,413.0 C239.8,416.0 237.1,418.2 236.3,421.7 C235.6,425.1 237.2,430.1 236.5,433.7 C235.8,437.2 233.7,440.6 232.0,443.0 C230.3,445.4 227.9,446.3 226.3,448.3 C224.7,450.3 223.2,452.6 222.3,455.0 C221.4,457.4 220.9,460.6 221.0,463.0 C221.1,465.4 221.5,468.1 222.8,469.7 C224.1,471.3 226.6,472.8 229.0,472.8 C231.4,472.8 234.6,471.4 237.0,469.5 C239.4,467.6 241.7,464.8 243.5,461.5 C245.3,458.2 247.5,454.8 248.0,450.0 C248.5,445.2 246.0,437.0 246.5,433.0 C247.0,429.0 250.2,427.2 251.0,426.0" stroke-width="1.1"/>
<path d="M245.0,429.7 C247.7,426.6 255.9,416.8 261.0,411.0 C266.1,405.2 270.4,401.3 275.7,395.0 C281.0,388.7 286.2,380.4 293.0,373.3 C299.8,366.2 307.4,359.1 316.3,352.3 C325.2,345.5 340.1,336.8 346.7,332.5 C353.3,328.2 353.5,328.8 356.0,326.7 C358.5,324.6 360.2,323.6 361.8,319.7 C363.4,315.8 364.7,306.0 365.3,303.3" stroke-width="1.2"/>
<path d="M207.3,349.7 L208.7,383" stroke-width="1.1"/>
<path d="M200,369 L206.5,371" stroke-width="1.1"/>
<path d="M206.0,351.0 C206.5,350.3 207.8,347.8 209.0,347.0 C210.2,346.2 211.5,346.1 213.0,346.0 C214.5,345.9 216.7,345.9 218.0,346.5 C219.3,347.1 220.3,347.9 221.0,349.5 C221.7,351.1 221.8,354.9 222.0,356.0" stroke-width="1.0"/>
<path d="M208,352 L214,350.5 L219,352.5 L219,365.5 L213,367.5 L208,365 Z M208,352 L213,355 L219,352.5 M213,355 L213,367.5" stroke-width="1.3"/>
<circle cx="216.5" cy="360.5" r="1.6" stroke-width="1.1"/>
<ellipse cx="218.7" cy="375" rx="2.4" ry="3.2" transform="rotate(25 218.7 375)" stroke-width="1.3"/>
<ellipse cx="229.9" cy="457.9" rx="3.3" ry="4.6" transform="rotate(30 229.9 457.9)" stroke-width="1.8"/>
<ellipse cx="230.3" cy="458.3" rx="2.0" ry="3.0" transform="rotate(30 230.3 458.3)" stroke-width="1.0"/>
<path d="M239.4,424 L245,428.5 M240,431 L246,447" stroke-width="1.0"/>
<path d="M230.0,365.0 C229.3,366.7 227.3,372.0 226.0,375.0 C224.7,378.0 222.7,381.7 222.0,383.0" stroke-width="1.0" stroke-dasharray="4 2"/>
<path d="M242.0,365.0 C241.5,366.8 240.1,372.6 239.0,376.0 C237.9,379.4 235.9,384.1 235.3,385.7" stroke-width="1.0" stroke-dasharray="4 2"/>
<path d="M339.7,326.7 C333.1,331.8 310.5,348.1 300.0,357.0 C289.5,365.9 283.0,373.1 276.7,380.3 C270.4,387.5 264.4,396.7 262.0,400.0" stroke-width="1.0" stroke-dasharray="8 3"/>
<path d="M245.0,433.0 C245.0,435.5 245.0,445.5 245.0,448.0" stroke-width="1.0" stroke-dasharray="4 2"/>
<path d="M233.5,463.0 C234.9,461.2 240.6,453.8 242.0,452.0" stroke-width="1.0" stroke-dasharray="4 2"/>
<path d="M342,311 L350,308 L357,312 L357,322 L349,325.5 L342,321.5 Z M342,311 L349,315 L357,312 M349,315 L349,325.5" stroke-width="1.4"/>
<circle cx="353" cy="318" r="1.6" stroke-width="1.1"/>
<path d="M318.7,315 L342,303.3" stroke-width="1.1"/>
<path d="M423.5,316.1 C421.8,315.2 416.0,311.3 413.4,310.5 C410.8,309.7 409.4,310.5 407.8,311.2 C406.1,312.0 404.4,313.5 403.5,315.0 C402.6,316.5 402.7,318.4 402.5,320.0 C402.3,321.6 402.1,323.0 402.5,324.8 C402.9,326.5 403.7,329.1 404.8,330.8 C405.8,332.4 407.2,333.4 409.0,334.5 C410.8,335.6 414.2,337.0 415.2,337.5" stroke-width="1.7"/>
<ellipse cx="421.6" cy="327" rx="7.4" ry="11.2" transform="rotate(25 421.6 327)" fill="#fff" stroke-width="2.3"/>
<ellipse cx="422" cy="327.3" rx="5.3" ry="8.3" transform="rotate(25 422 327.3)" stroke-width="1.6"/>
<ellipse cx="422.3" cy="327.5" rx="2.8" ry="4.4" transform="rotate(25 422.3 327.5)" stroke-width="2.4"/>
<path d="M330,275 L402,317.6"/>
<path d="M193.5,429.5 C192.4,429.5 188.8,428.8 187.0,429.5 C185.2,430.2 183.4,432.2 182.5,434.0 C181.6,435.8 181.3,438.0 181.5,440.0 C181.7,442.0 182.2,444.5 183.5,446.0 C184.8,447.5 187.4,448.4 189.0,448.8 C190.6,449.2 192.3,448.6 193.0,448.5" stroke-width="1.8"/>
<ellipse cx="193.2" cy="439" rx="6.5" ry="9.6" transform="rotate(30 193.2 439)" stroke-width="1.8"/>
<path d="M197.20,431.73 L196.40,431.39 L195.52,431.25 L194.57,431.30 L193.58,431.55 L192.57,431.99 L191.58,432.62 L190.62,433.40 L189.72,434.33 L188.91,435.37 L188.20,436.51 L187.62,437.72 L187.17,438.95" stroke-width="0.9"/>
<ellipse cx="193.2" cy="439.6" rx="2.1" ry="3.2" transform="rotate(30 193.2 439.6)" stroke-width="1.8"/>
<ellipse cx="208.6" cy="448.6" rx="6.8" ry="10.5" transform="rotate(30 208.6 448.6)" stroke-width="2.0"/>
<path d="M212.04,449.19 L212.10,447.67 L211.57,446.50 L210.57,445.91 L209.29,446.01 L208.00,446.80 L206.95,448.10 L206.35,449.66 L206.31,451.18 L206.86,452.33 L207.87,452.90 L209.15,452.77 L210.44,451.97" stroke-width="1.9"/>
<path d="M212.27,440.26 L211.23,440.14 L210.12,440.28 L208.95,440.66 L207.78,441.30 L206.62,442.15 L205.53,443.20 L204.54,444.41 L203.66,445.75 L202.94,447.18 L202.39,448.65 L202.02,450.12 L201.86,451.54" stroke-width="0.9"/>
<g transform="translate(272.5,488.3) rotate(-150)">
<path d="M3,-4.6 L19,-4.6 M3,4.6 L19,4.6" stroke-width="1.2" stroke-dasharray="2.6 1.8"/>
<path d="M19,-4.6 L27,-4.6 C29,-4.6 29.5,-2 29.5,0 C29.5,2 29,4.6 27,4.6 L19,4.6" stroke-width="1.5"/>
<path d="M20,-4.6 C21,-2 21,2 20,4.6" stroke-width="1.2"/>
<path d="M3,-6.5 C-1,-8 -5,-7.5 -6.5,-4 C-7.5,-1 -7.5,2 -6.5,4.5 C-5,8 -1,8.5 3,6.5" fill="#fff" stroke-width="1.7"/>
<ellipse cx="2.5" cy="0" rx="3.2" ry="6.8" fill="#fff" stroke-width="1.6"/>
<path d="M-2,-6.5 C-3.5,-3 -3.5,3 -2,6.5" stroke-width="1.0" stroke-dasharray="2 1.5"/>
</g>
<ellipse cx="350.9" cy="456.5" rx="8" ry="13.5" transform="rotate(30 350.9 456.5)" stroke-width="2.0"/>
<path d="M354.60,456.65 L354.86,454.76 L354.45,453.39 L353.45,452.79 L352.06,453.10 L350.56,454.24 L349.25,456.00 L348.38,458.02 L348.14,459.89 L348.57,461.25 L349.59,461.81 L350.98,461.48 L352.48,460.31" stroke-width="1.8"/>
<path d="M356.36,445.85 L355.17,445.58 L353.85,445.64 L352.44,446.04 L350.98,446.75 L349.52,447.75 L348.10,449.03 L346.76,450.53 L345.56,452.21 L344.51,454.02 L343.66,455.91 L343.03,457.81 L342.63,459.68" stroke-width="0.9"/>
<ellipse cx="448" cy="512.6" rx="8.2" ry="13.3" transform="rotate(30 448 512.6)" stroke-width="2.0"/>
<ellipse cx="449.1" cy="513.1" rx="2.0" ry="2.9" transform="rotate(30 449.1 513.1)" stroke-width="1.7"/>
<ellipse cx="464.7" cy="521.5" rx="5.4" ry="7.6" transform="rotate(25 464.7 521.5)" stroke-width="2.1"/>
<path d="M468.34,519.51 L467.75,518.56 L466.84,518.05 L465.76,518.05 L464.64,518.56 L463.64,519.51 L462.89,520.78 L462.50,522.18 L462.51,523.53 L462.93,524.64 L463.70,525.37 L464.71,525.61 L465.84,525.34" stroke-width="2.3"/>
<g transform="translate(488.3,535) rotate(-155)">
<path d="M0.0,-3.5 L14,-3.5 A1.75,3.5 0 0 1 14,3.5 L0.0,3.5" fill="#fff" stroke-width="1.6"/>
<path d="M6.0,-3.5 A1.75,3.5 0 0 1 6.0,3.5" stroke-width="1.3"/>
<path d="M7.8,-3.5 A1.75,3.5 0 0 1 7.8,3.5" stroke-width="1.3"/>
<path d="M9.6,-3.5 A1.75,3.5 0 0 1 9.6,3.5" stroke-width="1.3"/>
<path d="M11.4,-3.5 A1.75,3.5 0 0 1 11.4,3.5" stroke-width="1.3"/>
<path d="M13.2,-3.5 A1.75,3.5 0 0 1 13.2,3.5" stroke-width="1.3"/>
<ellipse cx="0" cy="0" rx="7.2" ry="8.3" fill="#fff" stroke-width="1.7"/>
<path d="M-0.4,-8.1 L-1.8,-4.6 M-7.0,1.2 L-4.0,2.1 M-1.1,8.1 L-2.2,5.0" stroke-width="1.2"/>
<ellipse cx="0.7" cy="0" rx="4.5" ry="5.8" stroke-width="0.9"/>
</g>
<g transform="translate(495,593.5) rotate(-157)">
<path d="M0.0,-3.8 L28.5,-3.8 A1.90,3.8 0 0 1 28.5,3.8 L0.0,3.8" fill="#fff" stroke-width="1.6"/>
<path d="M20.5,-3.8 A1.90,3.8 0 0 1 20.5,3.8" stroke-width="1.3"/>
<path d="M22.5,-3.8 A1.90,3.8 0 0 1 22.5,3.8" stroke-width="1.3"/>
<path d="M24.5,-3.8 A1.90,3.8 0 0 1 24.5,3.8" stroke-width="1.3"/>
<path d="M26.5,-3.8 A1.90,3.8 0 0 1 26.5,3.8" stroke-width="1.3"/>
<path d="M-1,-7.4 L-4.7,-7.6 C-9.4,-6.6 -10.6,-2.9 -10.2,0 C-10.6,2.9 -9.4,6.6 -4.7,7.6 L-1,7.4" fill="#fff" stroke-width="1.6"/>
<path d="M-8.5,-4.3 L-3.4,-4.3 M-8.5,4.3 L-3.4,4.3" stroke-width="1.0"/>
<ellipse cx="0" cy="0" rx="4.7" ry="9.5" fill="#fff" stroke-width="1.7"/>
<ellipse cx="0.8" cy="0" rx="3.2" ry="7.1" stroke-width="1.0"/>
</g>
<path d="M562.0,601.0 C562.2,600.0 562.7,596.4 563.5,595.0 C564.3,593.6 565.6,593.1 567.0,592.5 C568.4,591.9 570.1,591.3 571.7,591.3 C573.3,591.3 575.2,591.8 576.7,592.5 C578.2,593.2 579.3,594.1 581.0,595.5 C582.7,596.9 586.0,600.1 587.0,601.0" stroke-width="1.6"/>
<path d="M565.0,596.0 C565.7,595.7 567.7,594.4 569.0,594.0 C570.3,593.6 572.3,593.6 573.0,593.5" stroke-width="0.9"/>
<path d="M118.5,124.5 L151.3,97" stroke-width="1.7"/>
<path d="M144.5,139 L174,110.3" stroke-width="1.7"/>
<path d="M252.5,84 L206.7,103.7" stroke-width="1.7"/>
<path d="M280,100 L232.5,119" stroke-width="1.7"/>
<path d="M310.2,117.5 L306,165" stroke-width="1.7"/>
<path d="M160,189.5 L210,186" stroke-width="1.7"/>
<path d="M202.5,213.75 L165,222.5" stroke-width="1.7"/>
<path d="M228.75,230 L178,251" stroke-width="1.7"/>
<path d="M256.25,243.75 L200,265" stroke-width="1.7"/>
<path d="M280,260 L226.7,280.3" stroke-width="1.7"/>
<path d="M58.75,240 L57.8,290" stroke-width="1.7"/>
<path d="M82,256 L85,306.5" stroke-width="1.7"/>
<path d="M450.5,240.8 L410,263.3" stroke-width="1.7"/>
<path d="M479.5,255.5 L425,315.5" stroke-width="1.7"/>
<path d="M387.5,393.75 L357.5,443.75" stroke-width="1.7"/>
<path d="M418.75,412.5 L387.5,458.75" stroke-width="1.7"/>
<path d="M453,432 L453,499.5" stroke-width="1.7"/>
<path d="M487.5,451.5 L468,514.5" stroke-width="1.7"/>
<path d="M522,471 L490.5,528" stroke-width="1.7"/>
<path d="M535.5,550.5 L496,589" stroke-width="1.7"/>
<path d="M156.9,470.8 L185.2,448.2" stroke-width="1.7"/>
<path d="M182.4,489.2 L203.7,455.2" stroke-width="1.7"/>
<path d="M105.95,121.00 V131.40" stroke-width="1.9" stroke-linecap="butt"/>
<path transform="translate(109.75,121.95) scale(0.977,0.850)" d="M0.6,1.2 C1.3,0.4 2.3,0 3.4,0 C5.3,0 6.5,1.1 6.5,2.6 C6.5,4 5.4,4.9 3.3,4.9 C5.6,4.9 7,6 7,7.5 C7,9.1 5.6,10 3.6,10 C2.2,10 1,9.5 0.2,8.6" stroke-width="1.9" vector-effect="non-scaling-stroke"/>
<path d="M133.95,139.00 V149.40" stroke-width="1.9" stroke-linecap="butt"/>
<path transform="translate(137.75,139.95) scale(0.977,0.850)" d="M5.4,10 V0 L0,7.2 H7.2" stroke-width="1.9" vector-effect="non-scaling-stroke"/>
<path d="M256.15,73.00 V83.40" stroke-width="1.9" stroke-linecap="butt"/>
<path transform="translate(259.95,73.95) scale(0.977,0.850)" d="M6.3,1.1 C5.6,0.4 4.7,0 3.7,0 C1.4,0 0.2,2.4 0.2,5.9 C0.2,8.5 1.5,10 3.6,10 C5.6,10 7,8.7 7,6.8 C7,4.9 5.6,3.7 3.7,3.7 C2.1,3.7 0.9,4.5 0.2,5.9" stroke-width="1.9" vector-effect="non-scaling-stroke"/>
<path d="M282.35,89.00 V99.40" stroke-width="1.9" stroke-linecap="butt"/>
<path transform="translate(286.15,89.95) scale(0.977,0.850)" d="M0.3,2.6 C0.4,0.9 1.8,0 3.5,0 C5.4,0 6.8,1.1 6.8,2.9 C6.8,4.6 5.6,5.6 3.8,6.8 C2,8 0.6,9 0.2,10 H7" stroke-width="1.9" vector-effect="non-scaling-stroke"/>
<path d="M305.95,105.00 V115.40" stroke-width="1.9" stroke-linecap="butt"/>
<path transform="translate(309.75,105.95) scale(0.977,0.850)" d="M6.6,0 H1.3 L0.8,4.6 C1.6,4 2.5,3.7 3.6,3.7 C5.6,3.7 7,5 7,6.9 C7,8.8 5.6,10 3.6,10 C2.2,10 1,9.5 0.2,8.6" stroke-width="1.9" vector-effect="non-scaling-stroke"/>
<path d="M145.95,184.00 V194.40" stroke-width="1.9" stroke-linecap="butt"/>
<path transform="translate(149.75,184.95) scale(0.977,0.850)" d="M0,0 H7 C4.6,2.9 3.2,6 2.7,10" stroke-width="1.9" vector-effect="non-scaling-stroke"/>
<path transform="translate(205.95,208.45) scale(0.977,0.850)" d="M6.6,0 H1.3 L0.8,4.6 C1.6,4 2.5,3.7 3.6,3.7 C5.6,3.7 7,5 7,6.9 C7,8.8 5.6,10 3.6,10 C2.2,10 1,9.5 0.2,8.6" stroke-width="1.9" vector-effect="non-scaling-stroke"/>
<path transform="translate(229.95,220.95) scale(0.977,0.850)" d="M0,0 H7 C4.6,2.9 3.2,6 2.7,10" stroke-width="1.9" vector-effect="non-scaling-stroke"/>
<path transform="translate(256.95,235.45) scale(0.977,0.850)" d="M6.3,1.1 C5.6,0.4 4.7,0 3.7,0 C1.4,0 0.2,2.4 0.2,5.9 C0.2,8.5 1.5,10 3.6,10 C5.6,10 7,8.7 7,6.8 C7,4.9 5.6,3.7 3.7,3.7 C2.1,3.7 0.9,4.5 0.2,5.9" stroke-width="1.9" vector-effect="non-scaling-stroke"/>
<path transform="translate(283.45,252.95) scale(0.977,0.850)" d="M0,0 H7 C4.6,2.9 3.2,6 2.7,10" stroke-width="1.9" vector-effect="non-scaling-stroke"/>
<path transform="translate(54.25,294.75) scale(0.977,0.850)" d="M3.5,4.8 C1.7,4.8 0.6,3.9 0.6,2.4 C0.6,0.9 1.9,0 3.5,0 C5.1,0 6.4,0.9 6.4,2.4 C6.4,3.9 5.3,4.8 3.5,4.8 C1.4,4.8 0.1,5.8 0.1,7.4 C0.1,9 1.6,10 3.5,10 C5.4,10 6.9,9 6.9,7.4 C6.9,5.8 5.6,4.8 3.5,4.8 Z" stroke-width="1.9" vector-effect="non-scaling-stroke"/>
<path d="M81.15,309.20 V319.60" stroke-width="1.9" stroke-linecap="butt"/>
<path transform="translate(84.95,310.15) scale(0.977,0.850)" d="M3.5,0 C1.3,0 0,2.2 0,5 C0,7.8 1.3,10 3.5,10 C5.7,10 7,7.8 7,5 C7,2.2 5.7,0 3.5,0 Z" stroke-width="1.9" vector-effect="non-scaling-stroke"/>
<path transform="translate(449.25,231.95) scale(0.977,0.850)" d="M5.4,10 V0 L0,7.2 H7.2" stroke-width="1.9" vector-effect="non-scaling-stroke"/>
<path d="M479.45,244.00 V254.40" stroke-width="1.9" stroke-linecap="butt"/>
<path d="M485.85,244.00 V254.40" stroke-width="1.9" stroke-linecap="butt"/>
<path d="M385.95,381.50 V391.90" stroke-width="1.9" stroke-linecap="butt"/>
<path transform="translate(389.75,382.45) scale(0.977,0.850)" d="M6.6,0 H1.3 L0.8,4.6 C1.6,4 2.5,3.7 3.6,3.7 C5.6,3.7 7,5 7,6.9 C7,8.8 5.6,10 3.6,10 C2.2,10 1,9.5 0.2,8.6" stroke-width="1.9" vector-effect="non-scaling-stroke"/>
<path d="M418.45,400.00 V410.40" stroke-width="1.9" stroke-linecap="butt"/>
<path transform="translate(422.25,400.95) scale(0.977,0.850)" d="M0.3,2.6 C0.4,0.9 1.8,0 3.5,0 C5.4,0 6.8,1.1 6.8,2.9 C6.8,4.6 5.6,5.6 3.8,6.8 C2,8 0.6,9 0.2,10 H7" stroke-width="1.9" vector-effect="non-scaling-stroke"/>
<path d="M449.95,419.20 V429.60" stroke-width="1.9" stroke-linecap="butt"/>
<path transform="translate(453.75,420.15) scale(0.977,0.850)" d="M6.3,1.1 C5.6,0.4 4.7,0 3.7,0 C1.4,0 0.2,2.4 0.2,5.9 C0.2,8.5 1.5,10 3.6,10 C5.6,10 7,8.7 7,6.8 C7,4.9 5.6,3.7 3.7,3.7 C2.1,3.7 0.9,4.5 0.2,5.9" stroke-width="1.9" vector-effect="non-scaling-stroke"/>
<path d="M484.95,438.80 V449.20" stroke-width="1.9" stroke-linecap="butt"/>
<path transform="translate(488.75,439.75) scale(0.977,0.850)" d="M5.4,10 V0 L0,7.2 H7.2" stroke-width="1.9" vector-effect="non-scaling-stroke"/>
<path d="M518.45,458.00 V468.40" stroke-width="1.9" stroke-linecap="butt"/>
<path transform="translate(522.25,458.95) scale(0.977,0.850)" d="M0.6,1.2 C1.3,0.4 2.3,0 3.4,0 C5.3,0 6.5,1.1 6.5,2.6 C6.5,4 5.4,4.9 3.3,4.9 C5.6,4.9 7,6 7,7.5 C7,9.1 5.6,10 3.6,10 C2.2,10 1,9.5 0.2,8.6" stroke-width="1.9" vector-effect="non-scaling-stroke"/>
<path d="M534.75,537.30 V547.70" stroke-width="1.9" stroke-linecap="butt"/>
<path transform="translate(538.55,538.25) scale(0.977,0.850)" d="M0,0 H7 C4.6,2.9 3.2,6 2.7,10" stroke-width="1.9" vector-effect="non-scaling-stroke"/>
<path transform="translate(149.45,474.95) scale(0.977,0.850)" d="M0.7,8.9 C1.4,9.6 2.3,10 3.3,10 C5.6,10 6.8,7.6 6.8,4.1 C6.8,1.5 5.5,0 3.4,0 C1.4,0 0,1.3 0,3.2 C0,5.1 1.4,6.3 3.3,6.3 C4.9,6.3 6.1,5.5 6.8,4.1" stroke-width="1.9" vector-effect="non-scaling-stroke"/>
<path d="M174.95,490.50 V500.90" stroke-width="1.9" stroke-linecap="butt"/>
<path transform="translate(178.75,491.45) scale(0.977,0.850)" d="M3.5,0 C1.3,0 0,2.2 0,5 C0,7.8 1.3,10 3.5,10 C5.7,10 7,7.8 7,5 C7,2.2 5.7,0 3.5,0 Z" stroke-width="1.9" vector-effect="non-scaling-stroke"/>
</g>
<path fill="#ff0000" fill-rule="evenodd" d="M255,228 H280 V253 H255 Z M259,231 V250 H276 V231 Z"/>
</svg></body></html>
